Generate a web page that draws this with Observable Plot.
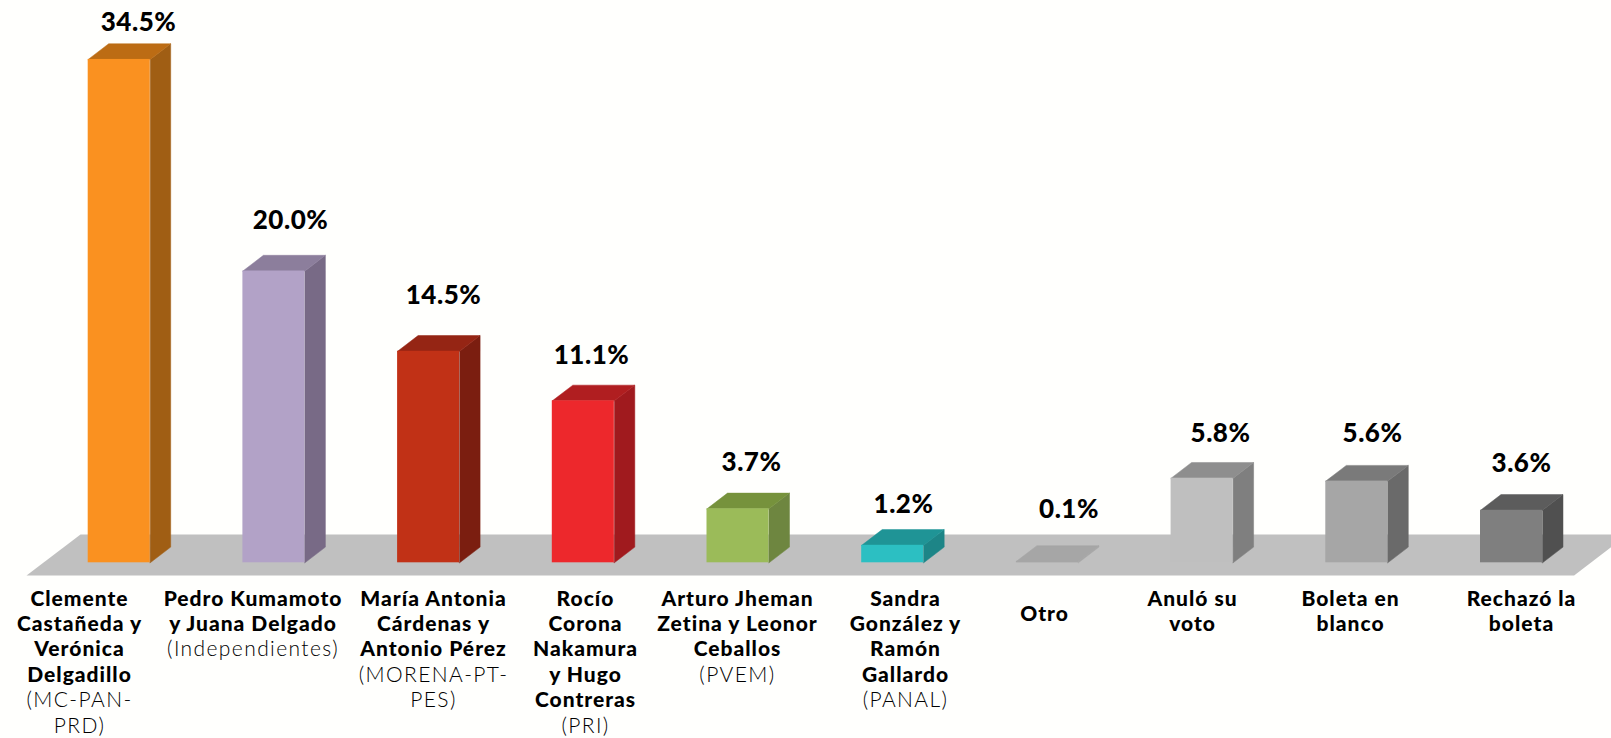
<!DOCTYPE html>
<html lang="es">
<head>
<meta charset="utf-8">
<script src="https://cdn.jsdelivr.net/npm/d3@7"></script>
<script src="https://cdn.jsdelivr.net/npm/@observablehq/plot@0.6"></script>
<style>
html,body{margin:0;padding:0;background:#fffffd;overflow:hidden}
.val text{letter-spacing:.5px}
.nm text{letter-spacing:1px}
.pt text{letter-spacing:1.4px}
</style>
</head>
<body>
<div id="chart"></div>
<script>
const categories = ["Clemente Castañeda y Verónica Delgadillo","Pedro Kumamoto y Juana Delgado","María Antonia Cárdenas y Antonio Pérez","Rocío Corona Nakamura y Hugo Contreras","Arturo Jheman Zetina y Leonor Ceballos","Sandra González y Ramón Gallardo","Otro","Anuló su voto","Boleta en blanco","Rechazó la boleta"];
const values = [34.5,20.0,14.5,11.1,3.7,1.2,0.1,5.8,5.6,3.6];
const valueLabels = ["34.5%","20.0%","14.5%","11.1%","3.7%","1.2%","0.1%","5.8%","5.6%","3.6%"];
const nameLines = [
  ["Clemente","Castañeda y","Verónica","Delgadillo"],
  ["Pedro Kumamoto","y Juana Delgado"],
  ["María Antonia","Cárdenas y","Antonio Pérez"],
  ["Rocío","Corona","Nakamura","y Hugo","Contreras"],
  ["Arturo Jheman","Zetina y Leonor","Ceballos"],
  ["Sandra","González y","Ramón","Gallardo"],
  ["Otro"],
  ["Anuló su","voto"],
  ["Boleta en","blanco"],
  ["Rechazó la","boleta"]
];
const partyLines = [["(MC-PAN-","PRD)"],["(Independientes)"],["(MORENA-PT-","PES)"],["(PRI)"],["(PVEM)"],["(PANAL)"],[],[],[],[]];
const frontColors = ["#fa9120","#b2a2c7","#c13116","#ed282c","#9bbb59","#2cbfc2","#a6a6a6","#bfbfbf","#a6a6a6","#7f7f7f"];
const sideColors  = ["#a05e14","#786a86","#7b1e10","#a01a1e","#6e8640","#1d8587","#a6a6a6","#7f7f7f","#6a6a6a","#505050"];
const topColors   = ["#bc6c14","#8c7e9c","#952514","#b01e20","#76923c","#1f9496","#a6a6a6","#8e8e8e","#7a7a7a","#5c5c5c"];

// layout (pixels per unit of each scale; offsets of the hand-placed labels)
const W = 1611, H = 738, PITCH = 154.7, PCT = 14.59, LEFT = 87.7, BASE = 562.3;
const BARW = 62 / PITCH, DX = 20.5 / PITCH, DY = 15.7 / PCT;
const labelCenter = [79,252.5,433,585,737,905,1044,1192,1350,1521];
const labelBlockOffset = [0,0,0,0,0,0,15,0,0,0];
const valueCenter = [138,290,443,591,751,903,1068.5,1220,1372,1521];
const valueLift = [21,35,40,29,30.6,24.6,36,29,32,31];
const LINE0 = 36, LINEH = 25.4;

const xOf = px => (px - LEFT) / PITCH;
const yBelow = px => -px / PCT;

const faces = [];
values.forEach((v,i)=>{
  const l=i, r=i+BARW;
  faces.push(...[[r,0],[r+DX,DY],[r+DX,v+DY],[r,v]].map(([x,y])=>({id:"s"+i,x,y,c:sideColors[i]})));
  faces.push(...[[l,v],[l+DX,v+DY],[r+DX,v+DY],[r,v]].map(([x,y])=>({id:"t"+i,x,y,c:topColors[i]})));
});
const floor = [[26,575],[80,534],[1627,534],[1573.6,575]].map(([px,py])=>({x:xOf(px),y:(BASE-py)/PCT}));
const bars = values.map((v,i)=>({i,v,c:frontColors[i]}));
const vals = values.map((v,i)=>({x:xOf(valueCenter[i]),y:v+DY+valueLift[i]/PCT,t:valueLabels[i]}));
const names = [], parties = [];
nameLines.forEach((ls,i)=>{
  ls.forEach((t,k)=>names.push({x:xOf(labelCenter[i]),y:yBelow(LINE0+labelBlockOffset[i]+k*LINEH),t}));
  partyLines[i].forEach((t,k)=>parties.push({x:xOf(labelCenter[i]),y:yBelow(LINE0+(ls.length+k)*LINEH),t}));
});

const chart = Plot.plot({
  width:W, height:H, margin:0,
  style:{background:"#fffffd",fontFamily:"Lato, sans-serif",color:"#000",overflow:"hidden"},
  x:{axis:null,domain:[xOf(0),xOf(W)]},
  y:{axis:null,domain:[yBelow(H-BASE),BASE/PCT]},
  marks:[
    Plot.line(floor,{x:"x",y:"y",fill:"#c0c0c0",stroke:null,curve:"linear-closed"}),
    Plot.line(faces,{x:"x",y:"y",z:"id",fill:"c",stroke:"c",strokeWidth:0.5,curve:"linear-closed"}),
    Plot.rectY(bars,{x1:d=>d.i,x2:d=>d.i+BARW,y1:0,y2:"v",fill:"c"}),
    Plot.text(vals,{x:"x",y:"y",text:"t",fontSize:26,fontWeight:900,fill:"#000",className:"val"}),
    Plot.text(names,{x:"x",y:"y",text:"t",fontSize:21,fontWeight:900,fill:"#000",className:"nm"}),
    Plot.text(parties,{x:"x",y:"y",text:"t",fontSize:21,fontWeight:300,fill:"#000",className:"pt"})
  ]
});
document.getElementById("chart").append(chart);
</script>
</body>
</html>
